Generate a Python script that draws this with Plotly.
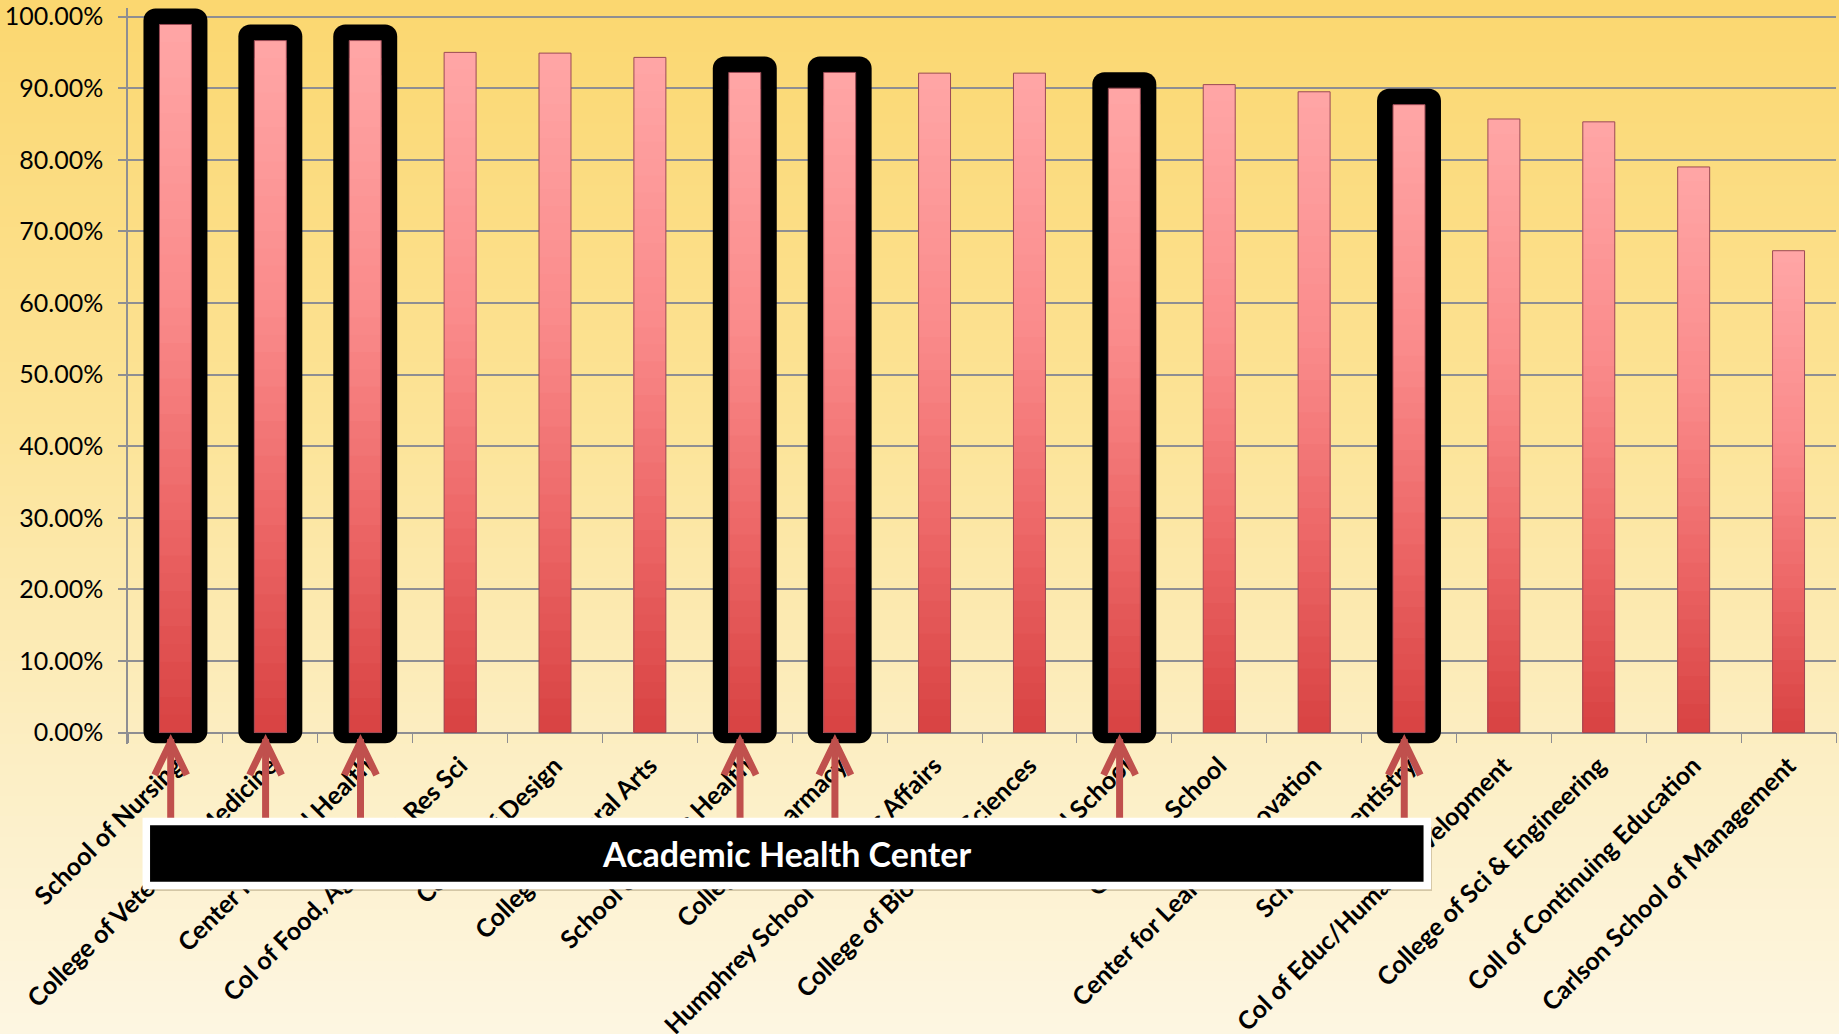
import plotly.graph_objects as go

# ---------------- data ----------------
colleges = [
    "School of Nursing", "College of Veterinary Medicine", "Center for Allied Health",
    "Col of Food, Agr & Nat Res Sci", "College of Design", "College of Liberal Arts",
    "School of Public Health", "College of Pharmacy", "Humphrey School of Public Affairs",
    "College of Biological Sciences", "Medical School", "Graduate School",
    "Center for Learning Innovation", "School of Dentistry", "Col of Educ/Human Development",
    "College of Sci & Engineering", "Coll of Continuing Education", "Carlson School of Management",
]
rates = [0.989, 0.9665, 0.9665, 0.950, 0.949, 0.943, 0.922, 0.922, 0.921,
         0.921, 0.900, 0.905, 0.895, 0.877, 0.857, 0.853, 0.790, 0.673]
ahc_colleges = ["School of Nursing", "College of Veterinary Medicine", "Center for Allied Health",
                "School of Public Health", "College of Pharmacy", "Medical School", "School of Dentistry"]
box_label = "Academic Health Center"
y_ticks = [i / 10 for i in range(11)]

# ---------------- layout geometry ----------------
W, H = 1839, 1034
ML, MR, MT, MB = 128, 3, 8, 290
Y_RANGE = [-0.016, 1.012]
plot_h = H - MT - MB
plot_w = W - ML - MR
px_per_unit = plot_h / (Y_RANGE[1] - Y_RANGE[0])


def py(pix):  # pixel row -> paper y
    return (H - MB - pix) / plot_h


def px(pix):  # pixel col -> paper x
    return (pix - ML) / plot_w


def lerp(c1, c2, t):
    return tuple(int(round(a + (b - a) * t)) for a, b in zip(c1, c2))


def grad(stops, t):
    for (t0, c0), (t1, c1) in zip(stops, stops[1:]):
        if t0 <= t <= t1:
            return lerp(c0, c1, (t - t0) / (t1 - t0) if t1 > t0 else 0)
    return stops[-1][1]


fig = go.Figure()

# highlight frames (behind bars)
pad_top = 16 / px_per_unit
pad_bot = 0.015
idx = {c: i for i, c in enumerate(colleges)}
fig.add_trace(go.Bar(
    x=ahc_colleges,
    y=[rates[idx[c]] + pad_top + pad_bot for c in ahc_colleges],
    base=-pad_bot,
    width=0.674,
    marker=dict(color="black", cornerradius=12, line=dict(width=0)),
    hoverinfo="skip", showlegend=False,
))

# gradient bars: overlay layers, lightest full height first
bar_stops = [(0.0, (216, 66, 66)), (0.3, (236, 102, 102)), (0.6, (250, 138, 138)), (1.0, (255, 166, 166))]
N = 40
for k in range(N):
    frac = 1 - k / N
    col = grad(bar_stops, 1 - (k + 0.5) / N)
    fig.add_trace(go.Bar(
        x=colleges, y=[v * frac for v in rates], width=0.337,
        marker=dict(color="rgb(%d,%d,%d)" % col, line=dict(width=0)),
        hoverinfo="skip", showlegend=False,
    ))
# real-value outline trace
fig.add_trace(go.Bar(
    x=colleges, y=rates, width=0.337, name="Rate",
    marker=dict(color="rgba(0,0,0,0)", line=dict(color="#9B4A55", width=1)),
    showlegend=False,
))

shapes = []
# background gradient bands over whole figure
bg_stops = [(0, (251, 215, 112)), (0.4, (252, 227, 150)), (0.72, (252, 238, 194)), (1.0, (253, 246, 226))]
NB = 100
for b in range(NB):
    y0pix = H * b / NB
    y1pix = H * (b + 1) / NB
    c = grad(bg_stops, (b + 0.5) / NB)
    shapes.append(dict(type="rect", xref="paper", yref="paper", layer="below",
                       x0=px(0), x1=px(W), y0=py(y1pix + 0.5), y1=py(y0pix - 0.5),
                       fillcolor="rgb(%d,%d,%d)" % c, line=dict(width=0)))

# arrows from box to highlighted bars
ARROW = "#C0504D"
tip, arm, tail = py(742), py(775), py(818)
for c in ahc_colleges:
    xc = idx[c] - 0.05
    shapes.append(dict(type="line", xref="x", yref="paper", layer="above",
                       x0=xc, x1=xc, y0=tail, y1=tip + 0.004, line=dict(color=ARROW, width=7)))
    shapes.append(dict(type="path", xref="x", yref="paper", layer="above",
                       path="M %f,%f L %f,%f L %f,%f" % (xc - 0.169, arm, xc, tip, xc + 0.169, arm),
                       line=dict(color=ARROW, width=7)))

# box shadow + box
shapes.append(dict(type="rect", xref="paper", yref="paper", layer="above",
                   x0=px(146 + 4), x1=px(1428 + 4), y0=py(886 + 5), y1=py(822 + 5),
                   fillcolor="rgba(90,70,30,0.25)", line=dict(width=0)))
shapes.append(dict(type="rect", xref="paper", yref="paper", layer="above",
                   x0=px(146.3), x1=px(1427.3), y0=py(885.5), y1=py(821.5),
                   fillcolor="black", line=dict(color="white", width=7.5)))

fig.update_layout(
    width=W, height=H,
    margin=dict(l=ML, r=MR, t=MT, b=MB, autoexpand=False),
    barmode="overlay",
    paper_bgcolor="rgb(253,246,226)",
    plot_bgcolor="rgba(0,0,0,0)",
    shapes=shapes,
    annotations=[dict(text=box_label, xref="paper", yref="paper",
                      x=px(787), y=py(853.5), xanchor="center", yanchor="middle",
                      showarrow=False,
                      font=dict(family="Lato", size=34, color="white", weight="bold"))],
    font=dict(family="Lato", color="black"),
    yaxis=dict(range=Y_RANGE, tickvals=y_ticks, tickformat=".2%", automargin=False,
               showgrid=True, gridcolor="#8E8E92", gridwidth=1.5,
               zeroline=False, showline=True, linecolor="#8E8E92", linewidth=1.5,
               ticks="outside", ticklen=8, tickcolor="#8E8E92", tickwidth=1.5,
               ticklabelstandoff=10,
               tickfont=dict(family="Lato", size=25, color="black")),
    xaxis=dict(type="category", categoryorder="array", categoryarray=colleges,
               anchor="free", position=py(732.5), automargin=False,
               showline=True, linecolor="#8E8E92", linewidth=1.5, layer="below traces",
               ticks="outside", tickson="boundaries", ticklen=10, tickcolor="#8E8E92",
               tickangle=-45, showgrid=False, ticklabelstandoff=8,
               tickfont=dict(family="Lato", size=25, color="black", weight="bold"),
               range=[-0.5, len(colleges) - 0.5]),
)

fig.write_html("out.html")
